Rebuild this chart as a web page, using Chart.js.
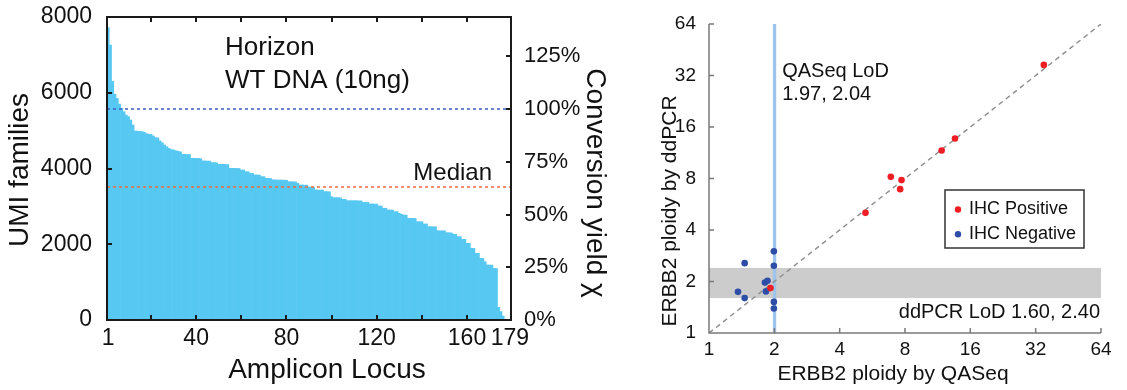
<!DOCTYPE html>
<html>
<head>
<meta charset="utf-8">
<script src="https://cdn.jsdelivr.net/npm/chart.js@4"></script>
<style>
  html, body { margin: 0; padding: 0; background: #fff; }
  #wrap { position: relative; width: 1127px; height: 390px; overflow: hidden; }
  #umiChart { position: absolute; left: 0; top: 0; }
  #ploidyChart { position: absolute; left: 640px; top: 0; }
</style>
</head>
<body>
<div id="wrap">
  <canvas id="umiChart" width="632" height="390"></canvas>
  <canvas id="ploidyChart" width="487" height="390"></canvas>
</div>
<script>
// Panel izquierdo: familias UMI por amplicón (ordenadas de mayor a menor)
const umiFamilies = [
  7720, 7260, 6300, 5960, 5850, 5700, 5590, 5500, 5410, 5370,
  5280, 5150, 4990, 4985, 4980, 4975, 4955, 4920, 4905, 4900,
  4860, 4815, 4810, 4730, 4680, 4620, 4575, 4530, 4500, 4490,
  4470, 4455, 4440, 4375, 4375, 4370, 4370, 4270, 4270, 4265,
  4265, 4260, 4200, 4200, 4195, 4195, 4155, 4155, 4150, 4110,
  4110, 4110, 4105, 4105, 4005, 4005, 4005, 4000, 4000, 3960,
  3960, 3915, 3915, 3875, 3870, 3830, 3830, 3825, 3785, 3785,
  3740, 3740, 3735, 3700, 3700, 3695, 3695, 3695, 3690, 3690,
  3650, 3650, 3650, 3645, 3610, 3565, 3565, 3560, 3560, 3510,
  3505, 3500, 3435, 3430, 3430, 3430, 3390, 3390, 3385, 3255,
  3230, 3230, 3230, 3225, 3185, 3185, 3150, 3150, 3150, 3150,
  3150, 3145, 3145, 3105, 3105, 3105, 3065, 3065, 3060, 3060,
  3010, 3010, 2950, 2950, 2905, 2905, 2900, 2860, 2860, 2815,
  2790, 2770, 2770, 2685, 2685, 2685, 2680, 2595, 2595, 2595,
  2535, 2535, 2465, 2465, 2460, 2460, 2360, 2355, 2355, 2355,
  2305, 2305, 2300, 2265, 2260, 2200, 2200, 2130, 2130, 2025,
  2025, 1895, 1890, 1760, 1760, 1630, 1625, 1540, 1455, 1450,
  1450, 1365, 1360, 335, 220, 105, 0, 0, 0
];
const loci = umiFamilies.map((_, i) => String(i + 1));
const xTickLabels = ['1', '40', '80', '120', '160', '179'];
const umiTicks = [0, 2000, 4000, 6000, 8000];
const yieldTicks = [0, 25, 50, 75, 100, 125];
const fullYieldUmi = 5570; // familias UMI que equivalen a 100% de conversión

// Panel derecho: ploidía ERBB2, QASeq (x) contra ddPCR (y)
const ihcPositive = [
  { x: 34.9, y: 36.9 }, { x: 13.6, y: 13.7 }, { x: 11.8, y: 11.65 },
  { x: 6.88, y: 8.18 }, { x: 7.71, y: 7.83 }, { x: 7.6, y: 6.93 },
  { x: 5.26, y: 5.04 }, { x: 1.92, y: 1.83 }
];
const ihcNegative = [
  { x: 1.46, y: 2.56 }, { x: 1.99, y: 3.0 }, { x: 1.99, y: 2.47 },
  { x: 1.81, y: 1.97 }, { x: 1.86, y: 2.02 }, { x: 1.83, y: 1.75 },
  { x: 1.36, y: 1.74 }, { x: 1.46, y: 1.60 }, { x: 1.99, y: 1.52 },
  { x: 1.99, y: 1.39 }
];
const ploidyTicks = [1, 2, 4, 8, 16, 32, 64];
const qaseqLod = [1.97, 2.04];
const ddpcrLod = [1.60, 2.40];

const fontFamily = '"Liberation Sans", Arial, Helvetica, sans-serif';
const ink = '#111';
const frameColor = '#1A1A1A';
const frameWidth = 2;

function median(values) {
  const s = [...values].sort((a, b) => a - b);
  const m = Math.floor(s.length / 2);
  return s.length % 2 ? s[m] : (s[m - 1] + s[m]) / 2;
}
const medianUmi = median(umiFamilies);

// las etiquetas no deben empujar el área del gráfico
function noLabelPadding(s) {
  s.paddingTop = 0; s.paddingBottom = 0;
  s.paddingLeft = 0; s.paddingRight = 0;
}

function drawText(ctx, t) {
  ctx.save();
  ctx.font = t.font;
  ctx.fillStyle = t.color || ink;
  ctx.textAlign = t.align || 'left';
  ctx.textBaseline = t.baseline || 'alphabetic';
  ctx.translate(t.x, t.y);
  if (t.rotate) ctx.rotate(t.rotate * Math.PI / 180);
  ctx.fillText(t.text, 0, 0);
  ctx.restore();
}

// Marco, marcas interiores, líneas de referencia y textos del panel izquierdo
const umiDecor = {
  id: 'umiDecor',
  afterDraw(chart) {
    const { ctx, chartArea: a, scales: { x, y, y1 } } = chart;
    const L = Math.round(a.left), R = Math.round(a.right);
    const T = Math.round(a.top), B = Math.round(a.bottom);
    const w = frameWidth, h = w / 2;

    ctx.save();
    ctx.lineWidth = 1.6;
    ctx.setLineDash([3, 3]);
    [[fullYieldUmi, '#3F5CC4'], [medianUmi, '#F06A40']].forEach(([v, c]) => {
      const py = y.getPixelForValue(v);
      ctx.strokeStyle = c;
      ctx.beginPath();
      ctx.moveTo(L, py);
      ctx.lineTo(R, py);
      ctx.stroke();
    });
    ctx.restore();

    ctx.save();
    ctx.fillStyle = frameColor;
    ctx.fillRect(L - h, T - h, R - L + w, w);
    ctx.fillRect(L - h, B - h, R - L + w, w);
    ctx.fillRect(L - h, T - h, w, B - T + w);
    ctx.fillRect(R - h, T - h, w, B - T + w);
    loci.forEach((l, i) => {
      if ((i + 1) % 20 !== 0) return;
      const px = Math.round(x.getPixelForValue(i));
      ctx.fillRect(px - h, B - 5, w, 5);
      ctx.fillRect(px - h, T, w, 5);
    });
    umiTicks.forEach(v => {
      const py = Math.round(y.getPixelForValue(v));
      ctx.fillRect(L, py - h, 5, w);
    });
    yieldTicks.forEach(v => {
      const py = Math.round(y1.getPixelForValue(v));
      ctx.fillRect(R - 5, py - h, 5, w);
    });
    ctx.restore();

    const big = `26px ${fontFamily}`;
    drawText(ctx, { text: 'Horizon', x: 225, y: 55, font: big });
    drawText(ctx, { text: 'WT DNA (10ng)', x: 225, y: 87.5, font: big });
    drawText(ctx, { text: 'Median', x: 492, y: y.getPixelForValue(medianUmi) - 7, font: `24px ${fontFamily}`, align: 'right' });

    const title = `28px ${fontFamily}`;
    drawText(ctx, { text: 'UMI families', x: 20, y: 170, font: title, align: 'center', baseline: 'middle', rotate: -90 });
    drawText(ctx, { text: 'Amplicon Locus', x: 327, y: 370, font: title, align: 'center', baseline: 'middle' });
    drawText(ctx, { text: 'Conversion yield χ', x: 595, y: 183, font: title, align: 'center', baseline: 'middle', rotate: 90 });
  }
};

// Bandas de LoD, ejes, leyenda y textos del panel derecho
const ploidyDecor = {
  id: 'ploidyDecor',
  beforeDatasetsDraw(chart) {
    const { ctx, chartArea: a, scales: { x, y } } = chart;
    ctx.save();
    const yTop = y.getPixelForValue(ddpcrLod[1]);
    const yBot = y.getPixelForValue(ddpcrLod[0]);
    ctx.fillStyle = '#CCCCCC';
    ctx.fillRect(a.left, yTop, a.right - a.left, yBot - yTop);
    const xl = x.getPixelForValue(qaseqLod[0]);
    const xr = x.getPixelForValue(qaseqLod[1]);
    ctx.fillStyle = '#9EC4EC';
    ctx.fillRect(xl, a.top, xr - xl, a.bottom - a.top);
    ctx.restore();
  },
  afterDraw(chart) {
    const { ctx, chartArea: a, scales: { x, y } } = chart;
    ctx.save();
    ctx.strokeStyle = '#7A7A7A';
    ctx.lineWidth = 1.5;
    ctx.beginPath();
    ctx.moveTo(a.left, a.top); ctx.lineTo(a.left, a.bottom); ctx.lineTo(a.right, a.bottom);
    ploidyTicks.forEach(v => {
      const px = x.getPixelForValue(v);
      ctx.moveTo(px, a.bottom); ctx.lineTo(px, a.bottom - 5);
      const py = y.getPixelForValue(v);
      ctx.moveTo(a.left, py); ctx.lineTo(a.left + 5, py);
    });
    ctx.stroke();

    // leyenda
    const lg = { x: 305, y: 190, w: 139, h: 58 };
    ctx.fillStyle = '#fff';
    ctx.fillRect(lg.x, lg.y, lg.w, lg.h);
    ctx.strokeStyle = '#333';
    ctx.lineWidth = 1.5;
    ctx.strokeRect(lg.x, lg.y, lg.w, lg.h);
    chart.data.datasets.filter(d => !d.showLine).forEach((d, i) => {
      const cy = lg.y + 19.5 + i * 24.7;
      ctx.fillStyle = d.backgroundColor;
      ctx.beginPath();
      ctx.arc(lg.x + 13, cy, 3.2, 0, Math.PI * 2);
      ctx.fill();
      drawText(ctx, { text: d.label, x: lg.x + 24, y: cy, font: `18px ${fontFamily}`, baseline: 'middle' });
    });
    ctx.restore();

    const txt = `20px ${fontFamily}`;
    const lodX = x.getPixelForValue(qaseqLod[1]) + 6;
    drawText(ctx, { text: 'QASeq LoD', x: lodX, y: 77, font: txt });
    drawText(ctx, { text: qaseqLod.map(v => v.toFixed(2)).join(', '), x: lodX, y: 100, font: txt });
    drawText(ctx, { text: 'ddPCR LoD ' + ddpcrLod.map(v => v.toFixed(2)).join(', '), x: a.right - 1, y: 318, font: txt, align: 'right' });

    const title = `21px ${fontFamily}`;
    drawText(ctx, { text: 'ERBB2 ploidy by ddPCR', x: 30, y: 211, font: title, align: 'center', baseline: 'middle', rotate: -90 });
    drawText(ctx, { text: 'ERBB2 ploidy by QASeq', x: 253, y: 374, font: title, align: 'center', baseline: 'middle' });
  }
};

new Chart(document.getElementById('umiChart'), {
  type: 'bar',
  data: {
    labels: loci,
    datasets: [{
      data: umiFamilies,
      backgroundColor: '#56C8F2',
      borderWidth: 0,
      barPercentage: 1,
      categoryPercentage: 1
    }]
  },
  options: {
    responsive: false,
    animation: false,
    events: [],
    layout: { padding: { top: 17, left: 0, right: 0, bottom: 0 } },
    plugins: { legend: { display: false }, tooltip: { enabled: false } },
    scales: {
      x: {
        type: 'category',
        grid: { display: false },
        border: { display: false },
        ticks: {
          autoSkip: false, maxRotation: 0, minRotation: 0, padding: -3,
          color: ink, font: { family: fontFamily, size: 23 },
          callback: (v, i) => xTickLabels.includes(loci[i]) ? loci[i] : ''
        },
        afterFit: s => { s.height = 70; noLabelPadding(s); }
      },
      y: {
        position: 'left', min: 0, max: 8000,
        afterBuildTicks: s => { s.ticks = umiTicks.map(v => ({ value: v })); },
        grid: { display: false },
        border: { display: false },
        ticks: { padding: 7, color: ink, font: { family: fontFamily, size: 23 }, callback: v => String(v) },
        afterFit: s => { s.width = 107; noLabelPadding(s); }
      },
      y1: {
        position: 'right', min: 0, max: 8000 / fullYieldUmi * 100,
        afterBuildTicks: s => { s.ticks = yieldTicks.map(v => ({ value: v })); },
        grid: { display: false },
        border: { display: false },
        ticks: { padding: 5, color: ink, font: { family: fontFamily, size: 22 }, callback: v => v + '%' },
        afterFit: s => { s.width = 632 - 511; noLabelPadding(s); }
      }
    }
  },
  plugins: [umiDecor]
});

new Chart(document.getElementById('ploidyChart'), {
  type: 'scatter',
  data: {
    datasets: [
      { label: 'IHC Positive', data: ihcPositive, backgroundColor: '#EE1D23', pointRadius: 3.3, pointBorderWidth: 0, order: 0 },
      { label: 'IHC Negative', data: ihcNegative, backgroundColor: '#2E4DA6', pointRadius: 3.3, pointBorderWidth: 0, order: 1 },
      {
        data: [{ x: ploidyTicks[0], y: ploidyTicks[0] }, { x: ploidyTicks[ploidyTicks.length - 1], y: ploidyTicks[ploidyTicks.length - 1] }],
        showLine: true, borderColor: '#8C8C8C', borderWidth: 1.4, borderDash: [5, 4],
        pointRadius: 0, order: 2
      }
    ]
  },
  options: {
    responsive: false,
    animation: false,
    events: [],
    layout: { padding: { top: 24, right: 26, left: 0, bottom: 0 } },
    plugins: { legend: { display: false }, tooltip: { enabled: false } },
    scales: {
      x: {
        type: 'logarithmic', min: 1, max: 64,
        afterBuildTicks: s => { s.ticks = ploidyTicks.map(v => ({ value: v })); },
        grid: { display: false },
        border: { display: false },
        ticks: { autoSkip: false, maxRotation: 0, padding: -3, color: ink, font: { family: fontFamily, size: 19 }, callback: v => String(v) },
        afterFit: s => { s.height = 57; noLabelPadding(s); }
      },
      y: {
        type: 'logarithmic', min: 1, max: 64,
        afterBuildTicks: s => { s.ticks = ploidyTicks.map(v => ({ value: v })); },
        grid: { display: false },
        border: { display: false },
        ticks: { autoSkip: false, padding: 5, color: ink, font: { family: fontFamily, size: 19 }, callback: v => String(v) },
        afterFit: s => { s.width = 69; noLabelPadding(s); }
      }
    }
  },
  plugins: [ploidyDecor]
});
</script>
</body>
</html>
